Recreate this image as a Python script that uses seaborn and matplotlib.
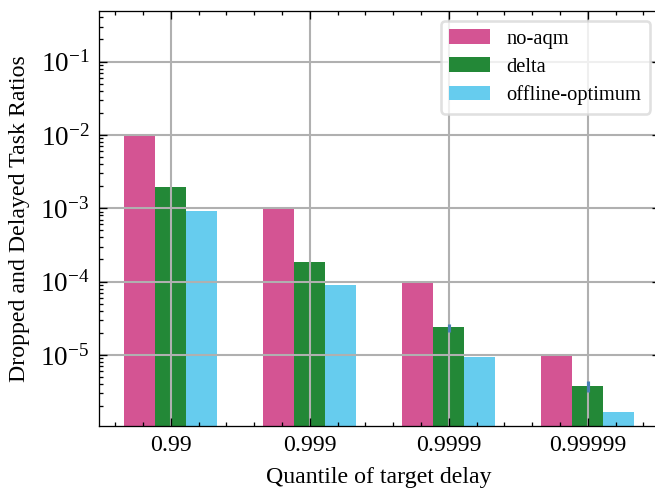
import matplotlib
matplotlib.use("Agg")
import matplotlib.pyplot as plt
from matplotlib.ticker import AutoMinorLocator
import numpy as np
import pandas as pd
import seaborn as sns

# Ratios of dropped and delayed tasks per target-delay quantile
quantiles = ["0.99", "0.999", "0.9999", "0.99999"]
series_names = ["no-aqm", "delta", "offline-optimum"]
no_aqm = [1.0e-2, 1.0e-3, 1.0e-4, 1.0e-5]
delta = [1.93e-3, 1.83e-4, 2.36e-5, 3.70e-6]
offline_optimum = [9.1e-4, 9.1e-5, 9.3e-6, 1.65e-6]
# Confidence interval of the delta policy (only resolvable at the higher quantiles)
delta_lower = [np.nan, np.nan, 2.08e-5, 3.10e-6]
delta_upper = [np.nan, np.nan, 2.65e-5, 4.33e-6]

colors = ["#D45493", "#238837", "#66CCEE"]
err_color = "#4A7FB5"

plt.rcParams.update({
    "font.family": "serif",
    "font.serif": ["Liberation Serif", "DejaVu Serif"],
    "mathtext.fontset": "stix",
    "font.size": 9.2,
    "axes.linewidth": 0.5,
    "xtick.direction": "in",
    "ytick.direction": "in",
    "xtick.top": True,
    "ytick.right": True,
    "xtick.major.size": 3,
    "xtick.minor.size": 1.5,
    "ytick.major.size": 3,
    "ytick.minor.size": 1.5,
    "xtick.major.width": 0.5,
    "xtick.minor.width": 0.5,
    "ytick.major.width": 0.5,
    "ytick.minor.width": 0.5,
    "xtick.minor.visible": True,
    "ytick.minor.visible": True,
    "ytick.labelsize": 10.5,
    "legend.edgecolor": "0.85",
})

df = pd.DataFrame({
    "quantile": quantiles * 3,
    "policy": np.repeat(series_names, len(quantiles)),
    "ratio": no_aqm + delta + offline_optimum,
})

fig = plt.figure(figsize=(3.5, 2.6292), dpi=187.15)
ax = fig.add_axes([98.5 / 655, 66 / 492, (660 - 98.5) / 655, (426 - 11) / 492])
ax.set_yscale("log")

sns.barplot(
    data=df, x="quantile", y="ratio", hue="policy",
    order=quantiles, hue_order=series_names, palette=colors,
    saturation=1, width=0.67, errorbar=None, linewidth=0, ax=ax,
)

# Error bars on the delta bars, centred on the seaborn bar patches
delta_bars = ax.containers[1]
xs = [p.get_x() + p.get_width() / 2 for p in delta_bars]
d = np.array(delta)
lo = np.array(delta_lower)
hi = np.array(delta_upper)
ax.errorbar(xs, d, yerr=[d - lo, hi - d], fmt="none", ecolor=err_color,
            elinewidth=1.2, capsize=0, zorder=3)

ax.set_xlim(-0.52, 3.52)
ax.set_ylim(1.07e-6, 0.49)
ax.xaxis.set_minor_locator(AutoMinorLocator(5))
ax.grid(True, which="major", axis="both", color="#b0b0b0", linewidth=0.8)
ax.set_axisbelow("line")

ax.set_xlabel("Quantile of target delay")
ax.set_ylabel("Dropped and Delayed Task Ratios")

handles, labels = ax.get_legend_handles_labels()
ax.legend(handles, labels, loc="upper right", title=None, fontsize=7.9,
          handlelength=2.0, handleheight=0.7, handletextpad=0.8,
          labelspacing=0.42, borderpad=0.4, borderaxespad=0.5)

fig.savefig("out.png", dpi=187.15)
